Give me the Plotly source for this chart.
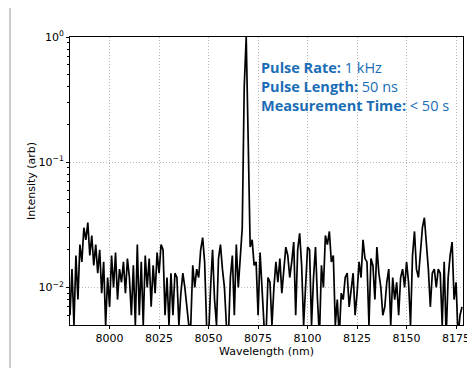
import plotly.graph_objects as go

wavelength_start = 7980
intensity = [
    0.006, 0.014, 0.005, 0.018, 0.008, 0.022, 0.016, 0.030, 0.024, 0.033,
    0.018, 0.026, 0.015, 0.022, 0.013, 0.020, 0.009, 0.016, 0.005, 0.012,
    0.007, 0.018, 0.010, 0.019, 0.008, 0.014, 0.011, 0.016, 0.009, 0.017,
    0.012, 0.006, 0.015, 0.005, 0.022, 0.006, 0.016, 0.005, 0.018, 0.010,
    0.017, 0.007, 0.015, 0.009, 0.019, 0.013, 0.022, 0.020, 0.006, 0.012,
    0.005, 0.013, 0.006, 0.013, 0.012, 0.005, 0.009, 0.013, 0.010, 0.007,
    0.005, 0.005, 0.015, 0.010, 0.014, 0.012, 0.020, 0.025, 0.016, 0.005,
    0.004, 0.010, 0.020, 0.008, 0.005, 0.017, 0.022, 0.014, 0.010, 0.005,
    0.004, 0.012, 0.018, 0.006, 0.022, 0.010, 0.016, 0.030, 0.400, 1.000,
    0.150, 0.021, 0.024, 0.015, 0.016, 0.006, 0.019, 0.009, 0.005, 0.004,
    0.012, 0.011, 0.005, 0.010, 0.016, 0.011, 0.017, 0.009, 0.014, 0.021,
    0.018, 0.012, 0.016, 0.023, 0.006, 0.020, 0.027, 0.015, 0.005, 0.012,
    0.021, 0.020, 0.005, 0.012, 0.021, 0.008, 0.004, 0.015, 0.010, 0.026,
    0.022, 0.028, 0.016, 0.018, 0.005, 0.008, 0.004, 0.009, 0.008, 0.012,
    0.013, 0.007, 0.010, 0.013, 0.006, 0.009, 0.016, 0.012, 0.024, 0.017,
    0.016, 0.005, 0.017, 0.015, 0.008, 0.021, 0.013, 0.010, 0.006, 0.007,
    0.011, 0.014, 0.005, 0.012, 0.008, 0.011, 0.006, 0.012, 0.014, 0.010,
    0.016, 0.011, 0.005, 0.018, 0.028, 0.014, 0.012, 0.021, 0.030, 0.036,
    0.022, 0.014, 0.007, 0.013, 0.014, 0.010, 0.014, 0.013, 0.005, 0.016,
    0.004, 0.012, 0.018, 0.023, 0.008, 0.011, 0.004, 0.006, 0.007,
]
wavelength = [wavelength_start + i for i in range(len(intensity))]

x_ticks = [8000, 8025, 8050, 8075, 8100, 8125, 8150, 8175]
y_ticks = [1, 0.1, 0.01]
y_ticktext = ["10<sup>0</sup>", "10<sup>\u22121</sup>", "10<sup>\u22122</sup>"]
y_minor = [0.006, 0.007, 0.008, 0.009, 0.02, 0.03, 0.04, 0.05, 0.06, 0.07, 0.08, 0.09,
           0.2, 0.3, 0.4, 0.5, 0.6, 0.7, 0.8, 0.9]

info_labels = ["Pulse Rate:", "Pulse Length:", "Measurement Time:"]
info_values = ["1 kHz", "50 ns", "&lt; 50 s"]

# page body has an 8px default margin, so the figure is sized/offset to compensate
W, H = 467, 360
L, R, T, B = 62, 12, 29, 43
PW, PH = W - L - R, H - T - B

fig = go.Figure()
fig.add_trace(go.Scatter(x=wavelength, y=intensity, mode="lines",
                         line=dict(color="black", width=1.7), showlegend=False))

font_axis = dict(family="DejaVu Sans", size=11, color="black")
grid = dict(showgrid=True, gridcolor="#b8b8b8", griddash="1px,2px", gridwidth=1)
fig.update_layout(
    width=W, height=H,
    margin=dict(l=L, r=R, t=T, b=B, autoexpand=False),
    paper_bgcolor="white", plot_bgcolor="white",
    xaxis=dict(range=[7980, 8178.5], tickvals=x_ticks, ticks="outside", ticklen=3,
               tickcolor="black", showline=True, linecolor="black", linewidth=1, mirror=True,
               tickfont=font_axis, zeroline=False, automargin=False,
               title=dict(text="Wavelength (nm)", font=font_axis, standoff=2), **grid),
    yaxis=dict(type="log", range=[-2.3, 0], tickvals=y_ticks, ticktext=y_ticktext,
               ticks="outside", ticklen=3, tickcolor="black",
               showline=True, linecolor="black", linewidth=1, mirror=True,
               tickfont=font_axis, zeroline=False, automargin=False,
               minor=dict(ticks="outside", ticklen=2, tickcolor="black", tickvals=y_minor, showgrid=False),
               title=dict(text="Intensity (arb)", font=font_axis, standoff=0), **grid),
)

for i, (lab, val) in enumerate(zip(info_labels, info_values)):
    fig.add_annotation(xref="paper", yref="paper", x=(251 - L) / PW, y=1 - (60 + 18.5 * i - T) / PH,
                       xanchor="left", yanchor="middle", showarrow=False,
                       text=f"<b>{lab}</b> {val}",
                       font=dict(family="Open Sans", size=14.5, color="#1a6db5"))

# outer picture frame lines
for px in (2, 460):
    fig.add_shape(type="line", xref="paper", yref="paper", x0=(px - L) / PW, x1=(px - L) / PW,
                  y0=-B / PH, y1=1 + T / PH, line=dict(color="#999999", width=1))

fig.write_html("out.html")
